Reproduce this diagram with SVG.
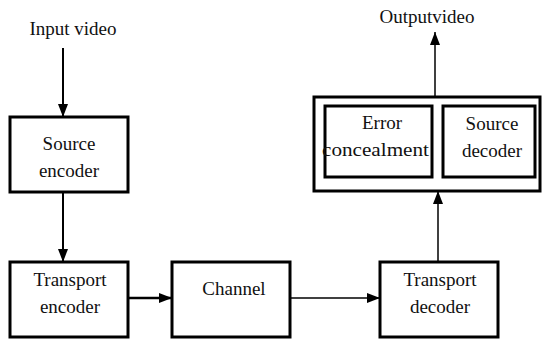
<svg xmlns="http://www.w3.org/2000/svg" width="542" height="340" viewBox="0 0 542 340">
<style>
.box{fill:#fff;stroke:#000;stroke-width:3}
.t{font-family:"Liberation Serif","Times New Roman",serif;font-size:19px;fill:#111;text-anchor:middle}
.c{stroke:#000;fill:none}
</style>
<defs>
<marker id="ah" markerUnits="userSpaceOnUse" markerWidth="14" markerHeight="10" refX="13" refY="5" orient="auto">
<path d="M0,0 L13,5 L0,10 z" fill="#000"/>
</marker>
</defs>
<rect width="542" height="340" fill="#fff"/>
<g id="input"><text class="t" x="73" y="35">Input video</text></g>
<g id="output"><text class="t" x="427" y="23">Outputvideo</text></g>
<g id="source-encoder">
<rect class="box" x="10" y="117" width="118" height="75"/>
<text class="t" x="69" y="150">Source</text>
<text class="t" x="69" y="177">encoder</text>
</g>
<g id="transport-encoder">
<rect class="box" x="10" y="262" width="118" height="75"/>
<text class="t" x="70" y="286">Transport</text>
<text class="t" x="70" y="313">encoder</text>
</g>
<g id="channel">
<rect class="box" x="172" y="262" width="118" height="75"/>
<text class="t" x="234" y="295">Channel</text>
</g>
<g id="transport-decoder">
<rect class="box" x="380" y="262" width="118" height="75"/>
<text class="t" x="440" y="286">Transport</text>
<text class="t" x="440" y="313">decoder</text>
</g>
<g id="decoder-group">
<rect class="box" x="314" y="97" width="226" height="94"/>
<g id="error-concealment">
<rect class="box" x="325" y="106" width="107" height="71"/>
<text class="t" x="382" y="129">Error</text>
<text class="t" x="322" y="156" style="text-anchor:start" textLength="107" lengthAdjust="spacingAndGlyphs">concealment</text>
</g>
<g id="source-decoder">
<rect class="box" x="443" y="106" width="92" height="71"/>
<text class="t" x="492" y="130">Source</text>
<text class="t" x="492" y="157">decoder</text>
</g>
</g>
<g id="connectors">
<line class="c" x1="63" y1="48" x2="63" y2="117" stroke-width="2" marker-end="url(#ah)"/>
<line class="c" x1="63" y1="192" x2="63" y2="262" stroke-width="2" marker-end="url(#ah)"/>
<line class="c" x1="128" y1="298" x2="172" y2="298" stroke-width="2.5" marker-end="url(#ah)"/>
<line class="c" x1="290" y1="298" x2="380" y2="298" stroke-width="1.3" marker-end="url(#ah)"/>
<line class="c" x1="438" y1="262" x2="438" y2="191" stroke-width="1.5" marker-end="url(#ah)"/>
<line class="c" x1="435" y1="97" x2="435" y2="32" stroke-width="1.5" marker-end="url(#ah)"/>
</g>
</svg>
